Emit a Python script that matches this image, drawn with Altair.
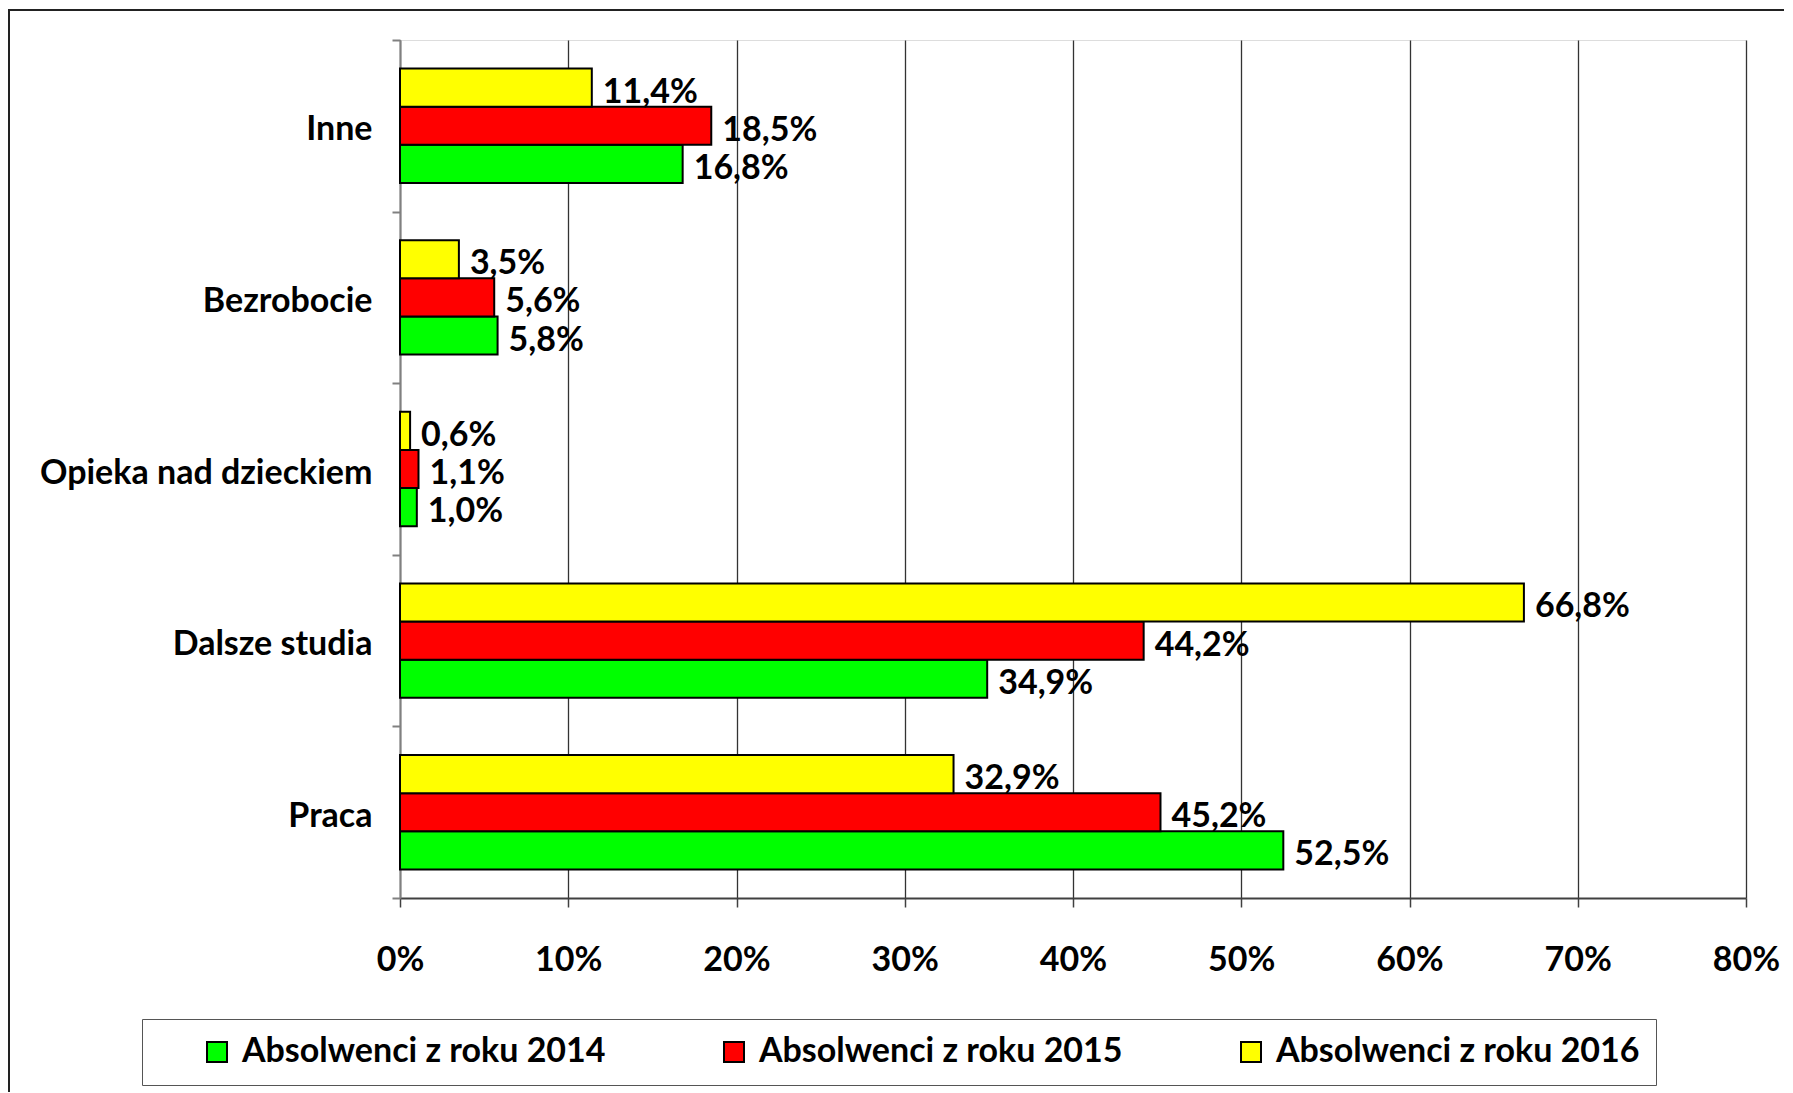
import altair as alt
import pandas as pd

categories = ["Inne", "Bezrobocie", "Opieka nad dzieckiem", "Dalsze studia", "Praca"]
series = ["Absolwenci z roku 2014", "Absolwenci z roku 2015", "Absolwenci z roku 2016"]
v2014 = [16.8, 5.8, 1.0, 34.9, 52.5]
v2015 = [18.5, 5.6, 1.1, 44.2, 45.2]
v2016 = [11.4, 3.5, 0.6, 66.8, 32.9]
colors = ["#00FF00", "#FF0000", "#FFFF00"]
x_ticks = [0, 10, 20, 30, 40, 50, 60, 70, 80]

rows = []
for s, vals in zip(series, [v2014, v2015, v2016]):
    for c, v in zip(categories, vals):
        rows.append({"cat": c, "series": s, "value": v})
df = pd.DataFrame(rows)

FONT = "Lato"
FS = 34

W, H = 1346, 858

y_enc = alt.Y("cat:N", sort=categories,
              scale=alt.Scale(paddingInner=0, paddingOuter=0),
              axis=alt.Axis(title=None, tickBand="extent", labelFontSize=FS, labelFont=FONT,
                            labelFontWeight="bold", labelColor="black", labelPadding=20,
                            labelOffset=4,
                            tickSize=8, tickColor="#808080", tickWidth=2,
                            domainColor="#808080", domainWidth=2, labelLimit=500, grid=False))
yoff = alt.YOffset("series:N", sort=list(reversed(series)),
                   scale=alt.Scale(paddingInner=0, paddingOuter=0.75))

base = alt.Chart(df)

bars = base.mark_bar(stroke="black", strokeWidth=2).encode(
    y=y_enc,
    yOffset=yoff,
    x=alt.X("value:Q", scale=alt.Scale(domain=[0, 80], nice=False),
            axis=alt.Axis(title=None, values=x_ticks, labelExpr="datum.value + '%'",
                          labelFontSize=FS, labelFont=FONT, labelFontWeight="bold",
                          labelColor="black", labelFlush=False, tickSize=9,
                          tickColor="#404040", tickWidth=1.5,
                          labelPadding=36, domainColor="#404040", domainWidth=2,
                          grid=True, gridColor="#333333", gridWidth=1.3)),
    color=alt.Color("series:N", scale=alt.Scale(domain=series, range=colors),
                    legend=alt.Legend(title=None, orient="none", legendX=-258, legendY=979,
                                      direction="horizontal", columns=3, symbolType="square",
                                      symbolSize=400, symbolStrokeColor="black",
                                      symbolStrokeWidth=2, symbolOffset=42, labelOffset=8,
                                      labelFontSize=FS, labelFont=FONT, labelFontWeight="bold",
                                      labelColor="black", columnPadding=69, padding=16,
                                      strokeColor="#555555", fillColor="white",
                                      labelLimit=600, gridAlign="all")),
)

texts = base.transform_calculate(
    label="replace(format(datum.value, '.1f'), '.', ',') + '%'"
).mark_text(align="left", baseline="middle", dx=11, dy=5, fontSize=FS, font=FONT,
            fontWeight="bold", color="black").encode(
    y=alt.Y("cat:N", sort=categories),
    yOffset=alt.YOffset("series:N", sort=list(reversed(series))),
    x=alt.X("value:Q"),
    text="label:N",
)

frame_left = alt.Chart(pd.DataFrame({"k": [0]})).mark_rule(color="#222222", strokeWidth=2).encode(
    x=alt.value(-391), y=alt.value(-30), y2=alt.value(H + 200))
frame_top = alt.Chart(pd.DataFrame({"k": [0]})).mark_rule(color="#222222", strokeWidth=2).encode(
    x=alt.value(-392), x2=alt.value(W + 100), y=alt.value(-30))

chart = alt.layer(bars, texts, frame_left, frame_top).properties(
    width=W, height=H,
    autosize=alt.AutoSizeParams(type="none"),
    padding={"left": 392, "top": 32, "right": 38, "bottom": 194},
).configure_view(stroke="#8a8a8a", strokeWidth=3).configure(background="white")

chart.save("out.html", embed_options={"renderer": "svg", "actions": False})
